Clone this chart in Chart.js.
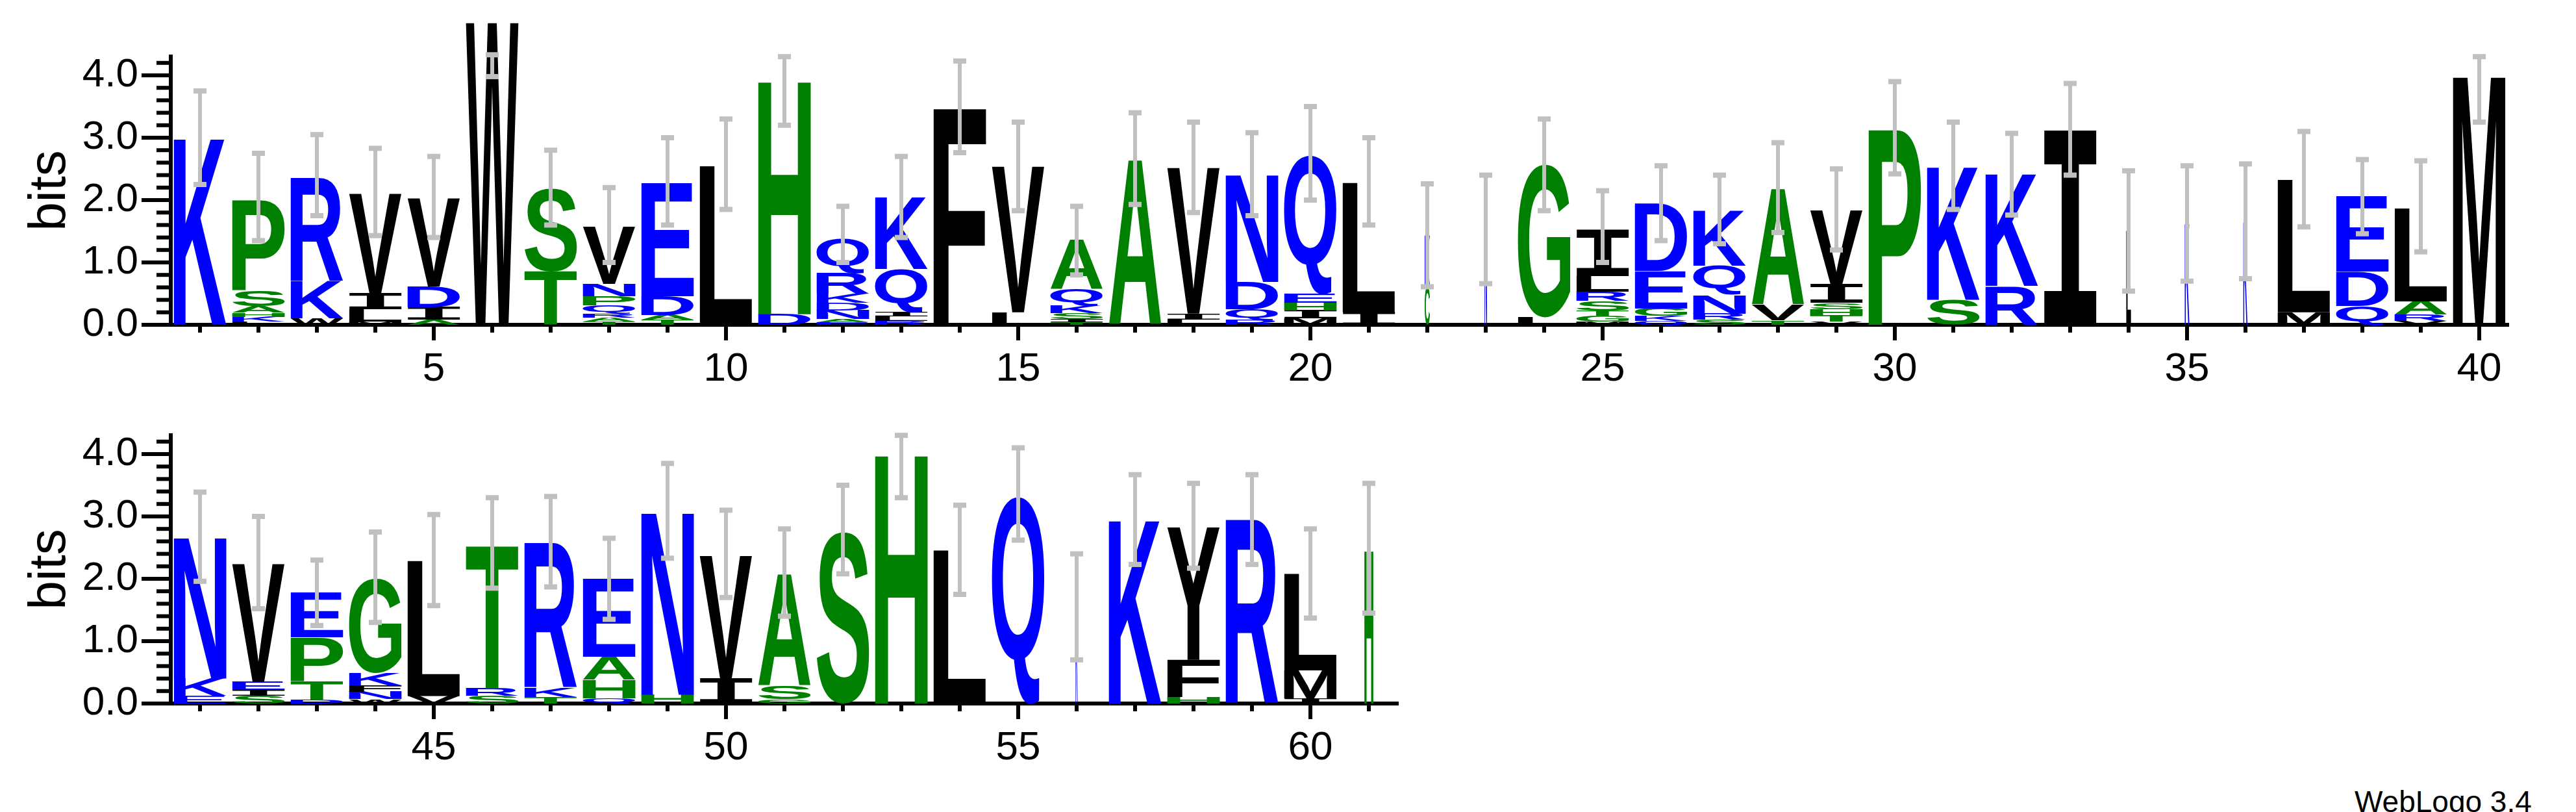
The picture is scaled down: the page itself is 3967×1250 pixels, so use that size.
<!DOCTYPE html>
<html>
<head>
<meta charset="utf-8">
<script src="https://cdn.jsdelivr.net/npm/chart.js@4/dist/chart.umd.min.js"></script>
<style>
  body { margin: 0; background: #fff; width: 3967px; height: 1250px; position: relative; overflow: hidden; }
  canvas { position: absolute; left: 0; }
  #c1 { top: 0; }
  #c2 { top: 583px; }
  #credit { position: absolute; left: 3626px; top: 1207px; font: 46px "Liberation Sans", Arial, sans-serif; white-space: nowrap; }
</style>
</head>
<body>
<canvas id="c1" width="3967" height="600"></canvas>
<canvas id="c2" width="3967" height="600"></canvas>
<div id="credit">WebLogo 3.4</div>
<script>
// letters per position, bottom -> top
const stacks = [
  'K', 'LKHASP', 'WKR', 'MLIV', 'AIDV', 'W', 'TS', 'TARQPNV', 'TADE', 'L',
  'DH', 'EANDKRQ', 'RLIQK', 'F', 'LV', 'TISKQA', 'A', 'LIV', 'RQDN', 'MIHEQ',
  'IL', 'CK', 'N', 'LG', 'MGTSRLI', 'QKGED', 'SRNQK', 'TVA', 'VTHSIV', 'P',
  'SK', 'RK', 'I', 'L', 'K', 'K', 'ML', 'QDE', 'VRAL', 'M',
  'EKN', 'SIEV', 'DTPE', 'WNFKG', 'VL', 'SRT', 'TKR', 'QHAE', 'HN', 'IV',
  'GSA', 'S', 'H', 'L', 'Q', 'K', 'K', 'HFY', 'R', 'IML', 'H'
];
// bits per letter, same order
const heights = [
  [3.0], [0.05, 0.08, 0.07, 0.1, 0.25, 1.45], [0.1, 0.6, 1.66], [0.05, 0.2, 0.25, 1.6], [0.08, 0.2, 0.33, 1.42],
  [4.85], [0.86, 1.33], [0.05, 0.06, 0.07, 0.13, 0.15, 0.2, 0.92], [0.08, 0.08, 0.3, 1.82], [2.55],
  [0.17, 3.75], [0.04, 0.05, 0.14, 0.12, 0.15, 0.33, 0.55], [0.06, 0.08, 0.06, 0.7, 1.15], [3.49], [0.2, 2.34],
  [0.04, 0.05, 0.1, 0.12, 0.27, 0.79], [2.64], [0.08, 0.1, 2.34], [0.08, 0.17, 0.44, 1.72], [0.1, 0.13, 0.12, 0.15, 2.22],
  [0.2, 2.08], [0.6, 0.83], [1.53], [0.12, 2.45], [0.05, 0.1, 0.08, 0.15, 0.15, 0.25, 0.75],
  [0.06, 0.08, 0.12, 0.6, 1.08], [0.08, 0.1, 0.3, 0.47, 0.89], [0.07, 0.25, 1.86], [0.05, 0.1, 0.1, 0.1, 0.3, 1.19], [3.15],
  [0.4, 2.14], [0.62, 1.8], [3.12], [1.51], [1.62],
  [1.65], [0.2, 2.13], [0.3, 0.55, 1.21], [0.06, 0.1, 0.22, 1.5], [4.0],
  [0.12, 0.28, 2.27], [0.12, 0.1, 0.13, 1.89], [0.06, 0.3, 0.7, 0.72], [0.07, 0.12, 0.1, 0.2, 1.51], [0.12, 2.17],
  [0.12, 0.12, 2.3], [0.1, 0.15, 2.33], [0.08, 0.3, 0.37, 1.25], [0.14, 2.93], [0.4, 1.97],
  [0.07, 0.22, 1.79], [2.75], [4.0], [2.46], [3.33],
  [1.55], [2.95], [0.1, 0.6, 2.13], [2.95], [0.08, 0.45, 1.55], [2.46]
];
// stack width (column occupancy)
const widths = [
  1, 1, 1, 1, 1, 1, 1, 1, 1, 1, 1, 1, 1, 1, 1, 1, 1, 1, 1, 1,
  1, 0.1, 0.05, 1, 1, 1, 1, 1, 1, 1, 1, 1, 1, 0.09, 0.09, 0.08, 1, 1, 1, 1,
  1, 1, 1, 1, 1, 1, 1, 1, 1, 1, 1, 1, 1, 1, 1, 0.04, 1, 1, 1, 1, 0.17
];
const errLow = [
  2.25, 1.35, 1.75, 1.43, 1.4, 3.98, 1.6, 1.0, 1.6, 1.85, 3.2, 1.0, 1.4, 2.76, 1.83, 0.8, 1.93, 1.8, 1.75, 2.0,
  1.6, 0.61, 0.66, 1.83, 1.0, 1.35, 1.3, 1.48, 1.2, 2.42, 1.85, 1.76, 2.4, 0.54, 0.7, 0.74, 1.57, 1.46, 1.17, 3.25,
  1.96, 1.52, 1.25, 1.3, 1.57, 1.85, 1.87, 1.35, 2.33, 1.7, 1.4, 2.08, 3.3, 1.75, 2.62, 0.7, 2.23, 2.17, 2.23, 1.37, 1.45
];
const errHigh = [
  3.75, 2.75, 3.05, 2.83, 2.7, 4.33, 2.8, 2.2, 3.0, 3.3, 4.3, 1.9, 2.7, 4.23, 3.25, 1.9, 3.4, 3.25, 3.08, 3.5,
  3.0, 2.26, 2.4, 3.3, 2.15, 2.55, 2.4, 2.92, 2.5, 3.9, 3.25, 3.07, 3.87, 2.47, 2.55, 2.58, 3.1, 2.65, 2.63, 4.3,
  3.39, 3.0, 2.3, 2.75, 3.03, 3.3, 3.32, 2.65, 3.85, 3.1, 2.8, 3.5, 4.3, 3.18, 4.1, 2.4, 3.67, 3.53, 3.67, 2.8, 3.53
];
const yTicks = [0, 1, 2, 3, 4];

const BLUE = '#0000ff', GREEN = '#008000', BLACK = '#000000';
function letterColor(c) {
  if ('KRDENQ'.includes(c)) return BLUE;
  if ('STGAPHC'.includes(c)) return GREEN;
  return BLACK;
}

const logoPlugin = {
  id: 'logo',
  afterDatasetsDraw(chart) {
    const ctx = chart.ctx;
    const o = chart.options.plugins.logo;
    chart.data.datasets.forEach((ds, di) => {
      chart.getDatasetMeta(di).data.forEach((bar, pi) => {
        const idx = o.start + pi;
        const ch = stacks[idx][di];
        if (!ch) return;
        const h = bar.base - bar.y;
        if (h < 0.5) return;
        const w = bar.width * widths[idx];
        ctx.save();
        ctx.font = ch === 'I' ? 'bold 200px "DejaVu Sans Mono"' : 'bold 200px "Liberation Sans"';
        const m = ctx.measureText(ch);
        const gw = m.actualBoundingBoxLeft + m.actualBoundingBoxRight;
        const gh = m.actualBoundingBoxAscent + m.actualBoundingBoxDescent;
        ctx.translate(bar.x - w / 2, bar.y);
        ctx.scale(w / gw, h / gh);
        ctx.fillStyle = letterColor(ch);
        ctx.fillText(ch, m.actualBoundingBoxLeft, m.actualBoundingBoxAscent);
        ctx.restore();
      });
    });
    // error bars
    const xs = chart.scales.x, ys = chart.scales.y;
    ctx.save();
    ctx.strokeStyle = '#c0c0c0';
    ctx.fillStyle = '#c0c0c0';
    ctx.lineWidth = 6;
    chart.data.labels.forEach((lab, pi) => {
      const idx = o.start + pi;
      const x = xs.getPixelForValue(pi);
      const y1 = ys.getPixelForValue(errLow[idx]);
      const y2 = ys.getPixelForValue(errHigh[idx]);
      ctx.beginPath();
      ctx.moveTo(x, y1);
      ctx.lineTo(x, y2);
      ctx.stroke();
      ctx.fillRect(x - 10, y1 - 4, 20, 8);
      ctx.fillRect(x - 10, y2 - 4, 20, 8);
    });
    ctx.restore();
    // tick marks
    ctx.save();
    ctx.strokeStyle = '#000';
    ctx.lineWidth = 6;
    const left = chart.chartArea.left, bottom = chart.chartArea.bottom;
    for (let k = 0; k <= 21; k++) {
      const y = ys.getPixelForValue(k * 0.2);
      const len = k % 5 === 0 ? 45 : 22;
      ctx.beginPath();
      ctx.moveTo(left, y);
      ctx.lineTo(left - len, y);
      ctx.stroke();
    }
    chart.data.labels.forEach((lab, pi) => {
      const x = xs.getPixelForValue(pi);
      const len = Number(lab) % 5 === 0 ? 24 : 12;
      ctx.beginPath();
      ctx.moveTo(x, bottom);
      ctx.lineTo(x, bottom + len);
      ctx.stroke();
    });
    ctx.restore();
  }
};

function makeLogo(canvasId, start, end) {
  const labels = [];
  for (let p = start + 1; p <= end; p++) labels.push(String(p));
  let depth = 0;
  for (let i = start; i < end; i++) depth = Math.max(depth, heights[i].length);
  const datasets = [];
  for (let d = 0; d < depth; d++) {
    datasets.push({
      data: heights.slice(start, end).map((hs) => hs[d] || 0),
      backgroundColor: 'rgba(0,0,0,0)',
      borderWidth: 0,
      barPercentage: 1,
      categoryPercentage: 0.9
    });
  }
  const tickFont = { family: '"Liberation Sans Narrow", "Liberation Sans", sans-serif', size: 62 };
  return new Chart(document.getElementById(canvasId), {
    type: 'bar',
    data: { labels, datasets },
    options: {
      responsive: false,
      devicePixelRatio: 1,
      animation: false,
      layout: { padding: { top: 51, right: 3967 - 263 - 90 * labels.length } },
      plugins: { legend: { display: false }, tooltip: { enabled: false }, logo: { start } },
      scales: {
        x: {
          stacked: true,
          grid: { display: false, drawTicks: false },
          border: { display: true, color: '#000', width: 6 },
          ticks: {
            autoSkip: false, maxRotation: 0, padding: 32, color: '#000', font: tickFont,
            callback: (v, i) => (Number(labels[i]) % 5 === 0 ? labels[i] : '')
          },
          afterFit: (s) => { s.height = 100; }
        },
        y: {
          stacked: true,
          min: 0, max: 4.3,
          afterBuildTicks: (s) => { s.ticks = yTicks.map((v) => ({ value: v })); },
          grid: { display: false, drawTicks: false },
          border: { display: true, color: '#000', width: 6 },
          ticks: { padding: 50, color: '#000', font: tickFont, callback: (v) => Number(v).toFixed(1) },
          title: {
            display: true, text: 'bits', color: '#000', padding: { top: 30, bottom: 0 },
            font: { family: '"Liberation Sans", sans-serif', size: 80 }
          },
          afterFit: (s) => { s.width = 263; }
        }
      }
    },
    plugins: [logoPlugin]
  });
}

makeLogo('c1', 0, 40);
makeLogo('c2', 40, 61);
</script>
</body>
</html>
